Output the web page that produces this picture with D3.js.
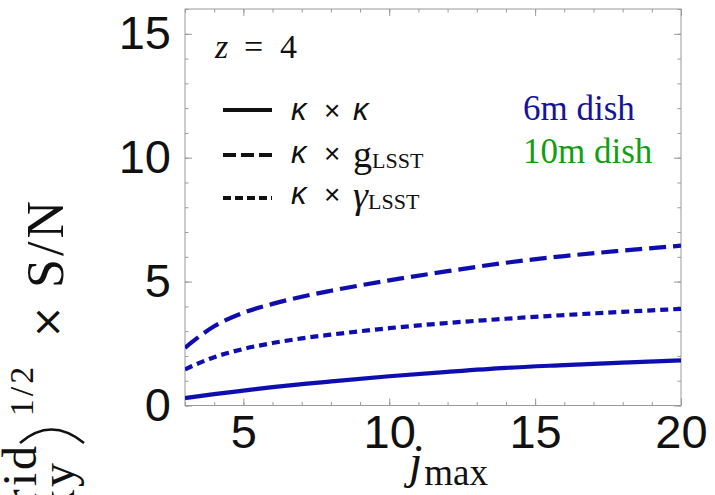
<!DOCTYPE html>
<html><head><meta charset="utf-8">
<script src="https://cdn.jsdelivr.net/npm/d3@7"></script>
<style>
html,body{margin:0;padding:0;background:#fff;}
svg{display:block;}
</style></head>
<body>
<svg id="chart" width="715" height="495"></svg>
<script>
// j_max sample points and S/N curves (6m dish)
const jmax       = [3, 4, 5, 6, 7, 8, 10, 12, 14, 16, 18, 20];
const kappaKappa = [0.30, 0.46, 0.60, 0.74, 0.86, 0.97, 1.18, 1.36, 1.52, 1.63, 1.73, 1.82];
const kappaG     = [2.33, 3.20, 3.74, 4.10, 4.39, 4.63, 5.05, 5.42, 5.76, 6.03, 6.25, 6.45];
const kappaGamma = [1.46, 1.95, 2.28, 2.52, 2.71, 2.86, 3.12, 3.33, 3.50, 3.65, 3.78, 3.90];

const xMajorTicks = [5, 10, 15, 20];
const yMajorTicks = [0, 5, 10, 15];
const xMinorTicks = d3.range(3, 21);
const yMinorTicks = d3.range(0, 17);
const redshiftLabel = "4";
const dishLabels = ["6m dish", "10m dish"];

const svg = d3.select("#chart");
const box = {left: 185, right: 681, top: 9, bottom: 405.5};

const x = d3.scaleLinear().domain([3, 20]).range([box.left, box.right]);
const y = d3.scaleLinear().domain([0, 16]).range([box.bottom, box.top]);

const frameColor = "#9a9a9a";
const curveColor = "#0b0bb0";

// blur filter for soft curve edges
const defs = svg.append("defs");
defs.append("filter").attr("id", "soft")
  .append("feGaussianBlur").attr("stdDeviation", 0.55);

// ---- frame ticks (inward on all four sides) ----
function styleAxis(g) {
  g.select(".domain").remove();
  g.selectAll(".tick line").attr("stroke", frameColor).attr("stroke-width", 1);
  g.selectAll(".tick text")
    .attr("fill", "#111")
    .style("font-family", "'Liberation Sans', Arial, sans-serif")
    .style("font-size", "47px")
    .style("font-weight", "300");
}

svg.append("g").attr("transform", `translate(0,${box.bottom})`)
  .call(d3.axisBottom(x).tickValues(xMinorTicks).tickSize(-3.5).tickFormat(""))
  .call(styleAxis);
svg.append("g").attr("transform", `translate(0,${box.bottom})`)
  .call(d3.axisBottom(x).tickValues(xMajorTicks).tickSize(-7).tickPadding(9).tickFormat(d3.format("d")))
  .call(styleAxis);
svg.append("g").attr("transform", `translate(0,${box.top})`)
  .call(d3.axisTop(x).tickValues(xMinorTicks).tickSize(-3.5).tickFormat(""))
  .call(styleAxis);
svg.append("g").attr("transform", `translate(0,${box.top})`)
  .call(d3.axisTop(x).tickValues(xMajorTicks).tickSize(-7).tickFormat(""))
  .call(styleAxis);

svg.append("g").attr("transform", `translate(${box.left},0)`)
  .call(d3.axisLeft(y).tickValues(yMinorTicks).tickSize(-3.5).tickFormat(""))
  .call(styleAxis);
svg.append("g").attr("transform", `translate(${box.left},0)`)
  .call(d3.axisLeft(y).tickValues(yMajorTicks).tickSize(-7).tickPadding(14).tickFormat(d3.format("d")))
  .call(styleAxis);
svg.append("g").attr("transform", `translate(${box.right},0)`)
  .call(d3.axisRight(y).tickValues(yMinorTicks).tickSize(-3.5).tickFormat(""))
  .call(styleAxis);
svg.append("g").attr("transform", `translate(${box.right},0)`)
  .call(d3.axisRight(y).tickValues(yMajorTicks).tickSize(-7).tickFormat(""))
  .call(styleAxis);

// frame
svg.append("rect")
  .attr("x", box.left).attr("y", box.top)
  .attr("width", box.right - box.left).attr("height", box.bottom - box.top)
  .attr("fill", "none").attr("stroke", frameColor).attr("stroke-width", 1);

// ---- curves ----
const series = [
  {values: kappaKappa, dash: null},
  {values: kappaG, dash: "17,7"},
  {values: kappaGamma, dash: "8,5"}
];
const line = d3.line()
  .x(d => x(d[0]))
  .y(d => y(d[1]))
  .curve(d3.curveMonotoneX);

const clip = defs.append("clipPath").attr("id", "plotclip");
clip.append("rect").attr("x", box.left).attr("y", box.top)
  .attr("width", box.right - box.left).attr("height", box.bottom - box.top);

const curves = svg.append("g").attr("clip-path", "url(#plotclip)");
series.forEach(s => {
  curves.append("path")
    .datum(jmax.map((j, i) => [j, s.values[i]]))
    .attr("d", line)
    .attr("fill", "none")
    .attr("stroke", curveColor)
    .attr("stroke-width", 4.2)
    .attr("stroke-dasharray", s.dash)
    .attr("filter", "url(#soft)");
});

// ---- annotations ----
const serif = "'Liberation Serif', 'Times New Roman', serif";
const sans = "'Liberation Sans', Arial, sans-serif";

// z = 4
const zt = svg.append("text").attr("y", 58)
  .style("font-family", serif).style("font-size", "34px").attr("fill", "#111");
zt.append("tspan").attr("x", 215).style("font-style", "italic").text("z");
zt.append("tspan").attr("x", 244).text("=");
zt.append("tspan").attr("x", 280).text(redshiftLabel);

// legend
const legendRows = [
  {yLine: 110, base: 120, dash: null, sym: "κ", sub: null},
  {yLine: 155, base: 163, dash: "13,5", sym: "g", sub: "LSST"},
  {yLine: 198, base: 204, dash: "8,4", sym: "γ", sub: "LSST"}
];
legendRows.forEach(r => {
  svg.append("line")
    .attr("x1", 223).attr("x2", 272)
    .attr("y1", r.yLine).attr("y2", r.yLine)
    .attr("stroke", "#111").attr("stroke-width", 4)
    .attr("stroke-dasharray", r.dash);
  svg.append("text").attr("x", 291).attr("y", r.base)
    .style("font-family", sans).style("font-size", "31px").style("font-style", "italic")
    .attr("fill", "#111").text("κ");
  svg.append("text").attr("x", 324).attr("y", r.base)
    .style("font-family", sans).style("font-size", "28px")
    .attr("fill", "#111").text("×");
  if (r.sub === null) {
    svg.append("text").attr("x", 353).attr("y", r.base)
      .style("font-family", sans).style("font-size", "31px").style("font-style", "italic")
      .attr("fill", "#111").text(r.sym);
  } else {
    const t = svg.append("text").attr("x", 353).attr("y", r.base + 4)
      .style("font-family", serif).attr("fill", "#111");
    t.append("tspan").style("font-size", "38px")
      .style("font-style", r.sym === "γ" ? "italic" : "normal").text(r.sym);
    t.append("tspan").style("font-size", "22px").attr("dy", 1).text(r.sub);
  }
});

// dish labels
svg.append("text").attr("x", 523).attr("y", 120)
  .style("font-family", serif).style("font-size", "35px")
  .attr("fill", "#14149a").text(dishLabels[0]);
svg.append("text").attr("x", 523).attr("y", 163)
  .style("font-family", serif).style("font-size", "35px")
  .attr("fill", "#12a012").text(dishLabels[1]);

// x axis label: j_max
const xl = svg.append("text").attr("x", 409).attr("y", 478)
  .style("font-family", serif).attr("fill", "#111");
xl.append("tspan").style("font-size", "48px").style("font-style", "italic").text("j");
xl.append("tspan").style("font-size", "37px").attr("dx", 2).attr("dy", 7).text("max");

// y axis label, rotated: (grid/sky)^{1/2} × S/N
const yl = svg.append("g").attr("transform", "rotate(-90)")
  .style("font-family", serif).attr("fill", "#111");
yl.append("text").attr("x", -198).attr("y", 63).attr("text-anchor", "end")
  .style("font-size", "52px").style("letter-spacing", "3px").text("S/N");
yl.append("text").attr("x", -322).attr("y", 61).attr("text-anchor", "middle")
  .style("font-family", "'DejaVu Sans', sans-serif")
  .style("font-size", "40px").text("×");
yl.append("text").attr("x", -390).attr("y", 33).attr("text-anchor", "middle")
  .style("font-size", "34px").style("letter-spacing", "3px").text("1/2");
yl.append("text").attr("x", -443).attr("y", 36).attr("text-anchor", "end")
  .style("font-size", "48px").style("letter-spacing", "3px").text("grid");
yl.append("text").attr("x", -460).attr("y", 74).attr("text-anchor", "end")
  .style("font-size", "48px").style("letter-spacing", "3px").text("sky");
// closing parenthesis of the ratio
yl.append("path")
  .attr("d", "M-443,20 Q-416,51 -443,84")
  .attr("fill", "none").attr("stroke", "#111").attr("stroke-width", 2.6);
</script>
</body></html>
